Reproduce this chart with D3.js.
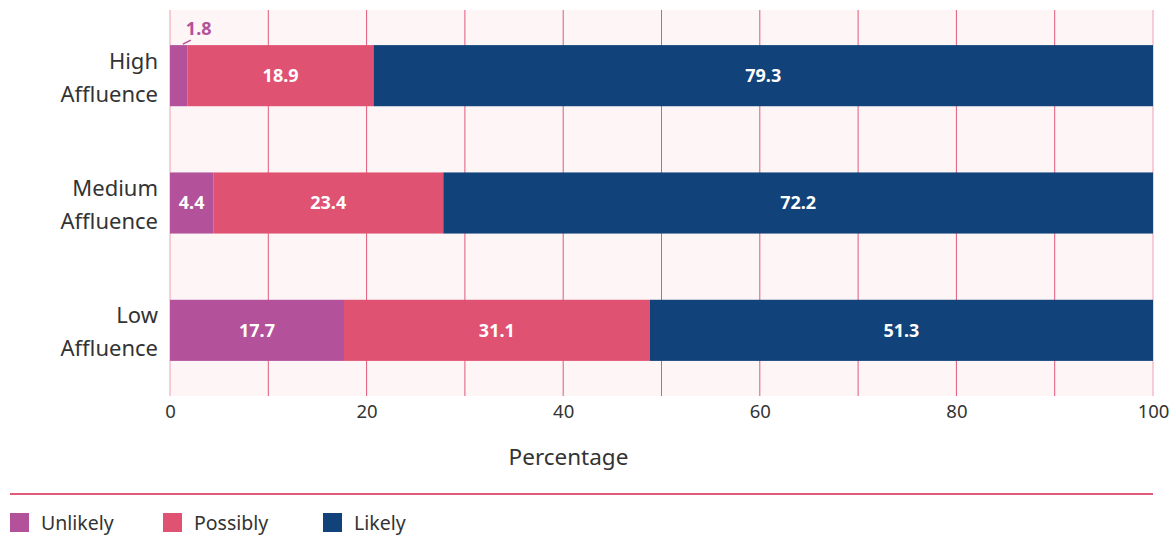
<!DOCTYPE html>
<html>
<head>
<meta charset="utf-8">
<script src="https://cdn.jsdelivr.net/npm/d3@7"></script>
<style>
  html, body { margin: 0; padding: 0; background: #fff; }
  svg { display: block; font-family: "Noto Sans", "Open Sans", sans-serif; }
</style>
</head>
<body>
<svg id="chart" width="1175" height="536"></svg>
<script>
// Survey shares by affluence group (percent)
const groups = ["High Affluence", "Medium Affluence", "Low Affluence"];
const groupLines = [["High", "Affluence"], ["Medium", "Affluence"], ["Low", "Affluence"]];
const seriesNames = ["Unlikely", "Possibly", "Likely"];
const unlikely = [1.8, 4.4, 17.7];
const possibly = [18.9, 23.4, 31.1];
const likely = [79.3, 72.2, 51.3];
const xTicks = [0, 20, 40, 60, 80, 100];
const colors = ["#b3529a", "#e05271", "#11427a"];

const rows = groups.map((g, i) => ({
  group: g, Unlikely: unlikely[i], Possibly: possibly[i], Likely: likely[i]
}));

const svg = d3.select("#chart");
const plotLeft = 170, plotRight = 1153, plotTop = 10, plotBottom = 396;

const x = d3.scaleLinear().domain([0, 100]).range([plotLeft, plotRight]);
const y = d3.scaleBand().domain(groups).range([12, 394]).paddingInner(0.52).paddingOuter(0.26);

// plot background
svg.append("rect")
  .attr("x", plotLeft).attr("y", plotTop)
  .attr("width", plotRight - plotLeft).attr("height", plotBottom - plotTop)
  .attr("fill", "#fdf5f6");

// vertical grid lines every 10
svg.append("g").selectAll("line")
  .data(d3.range(0, 101, 10))
  .join("line")
  .attr("x1", d => x(d)).attr("x2", d => x(d))
  .attr("y1", plotTop).attr("y2", plotBottom)
  .attr("stroke", d => (d === 0 || d === 100) ? "#eea0b4" : "#e05a7a")
  .attr("stroke-width", 1);

// stacked bars
const stack = d3.stack().keys(seriesNames)(rows);
const layers = svg.append("g").selectAll("g")
  .data(stack)
  .join("g")
  .attr("fill", (d, i) => colors[i]);

layers.selectAll("rect")
  .data(d => d)
  .join("rect")
  .attr("x", d => x(d[0]))
  .attr("y", d => y(d.data.group))
  .attr("width", d => x(Math.min(d[1], 100)) - x(d[0]))
  .attr("height", y.bandwidth());

// value labels
stack.forEach((layer, si) => {
  layer.forEach(d => {
    const v = d.data[layer.key];
    const cx = (x(d[0]) + x(Math.min(d[1], 100))) / 2;
    const cy = y(d.data.group) + y.bandwidth() / 2;
    const wide = x(d[1]) - x(d[0]) > 34;
    if (wide) {
      svg.append("text")
        .attr("x", cx).attr("y", cy)
        .attr("dy", "0.36em")
        .attr("text-anchor", "middle")
        .attr("fill", "#fff")
        .attr("font-weight", 700)
        .attr("font-size", 18)
        .text(v.toFixed(1));
    } else {
      // small segment: label above with a short leader
      const by = y(d.data.group);
      svg.append("line")
        .attr("x1", cx + 4).attr("y1", by - 1)
        .attr("x2", cx + 12).attr("y2", by - 5)
        .attr("stroke", colors[si]).attr("stroke-width", 1.5);
      svg.append("text")
        .attr("x", cx + 7).attr("y", by - 10)
        .attr("fill", colors[si])
        .attr("font-weight", 700)
        .attr("font-size", 18)
        .text(v.toFixed(1));
    }
  });
});

// y category labels
groups.forEach((g, i) => {
  const cy = y(g) + y.bandwidth() / 2;
  const t = svg.append("text")
    .attr("x", 158)
    .attr("y", cy - 7)
    .attr("text-anchor", "end")
    .attr("fill", "#333")
    .attr("font-size", 22);
  t.append("tspan").attr("x", 158).text(groupLines[i][0]);
  t.append("tspan").attr("x", 158).attr("dy", 33).text(groupLines[i][1]);
});

// x axis tick labels
const xAxis = d3.axisBottom(x).tickValues(xTicks).tickSize(0).tickPadding(9);
const ax = svg.append("g").attr("transform", `translate(0,${plotBottom})`).call(xAxis);
ax.select(".domain").remove();
ax.selectAll("text")
  .attr("font-family", "\"Noto Sans\", \"Open Sans\", sans-serif")
  .attr("font-size", 18.5)
  .attr("fill", "#333");

// axis title
svg.append("text")
  .attr("x", (plotLeft + plotRight) / 2 - 93)
  .attr("y", 465)
  .attr("text-anchor", "middle")
  .attr("fill", "#333")
  .attr("font-size", 22.5)
  .text("Percentage");

// separator
svg.append("line")
  .attr("x1", 10).attr("x2", plotRight)
  .attr("y1", 494).attr("y2", 494)
  .attr("stroke", "#e05a7a").attr("stroke-width", 2);

// legend
const legendX = [10, 163, 323];
const legend = svg.append("g").selectAll("g")
  .data(seriesNames)
  .join("g")
  .attr("transform", (d, i) => `translate(${legendX[i]},513)`);
legend.append("rect")
  .attr("width", 19).attr("height", 19)
  .attr("fill", (d, i) => colors[i]);
legend.append("text")
  .attr("x", 31).attr("y", 10)
  .attr("dy", "0.36em")
  .attr("fill", "#333")
  .attr("font-size", 19.5)
  .text(d => d);
</script>
</body>
</html>
